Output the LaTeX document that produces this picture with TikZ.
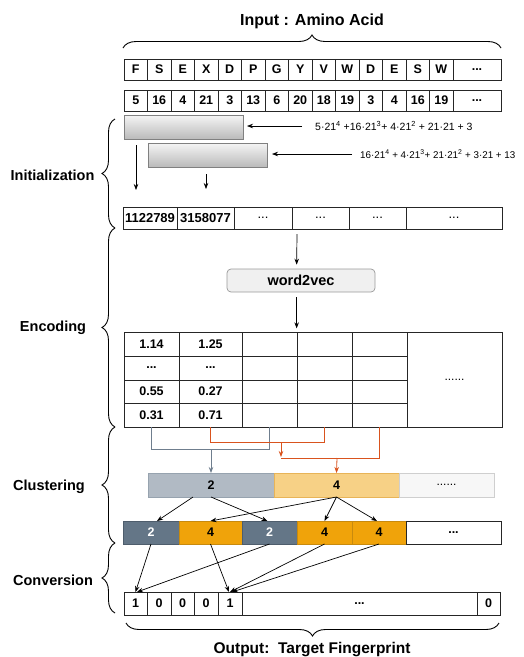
\documentclass[tikz,border=0pt]{standalone}
\usepackage{fontspec}
\setmainfont{Liberation Sans}
\usetikzlibrary{arrows.meta,decorations.pathreplacing,calc}

\definecolor{slate}{HTML}{647687}
\definecolor{slateline}{HTML}{4E5D6C}
\definecolor{amber}{HTML}{F0A30A}
\definecolor{amberline}{HTML}{C88A0E}
\definecolor{slatelight}{HTML}{B1BAC4}
\definecolor{slatelightline}{HTML}{97A3AF}
\definecolor{amberlight}{HTML}{F7D186}
\definecolor{amberlightline}{HTML}{E8B458}
\definecolor{paleg}{HTML}{F7F7F7}
\definecolor{palegline}{HTML}{CFCFCF}
\definecolor{redorange}{HTML}{D9531E}
\definecolor{grayconn}{HTML}{6F7E8E}

\newcommand\dotsthree{...}
\newcommand\thindots{{\mdseries ...}}

\begin{document}
\begin{tikzpicture}[x=1pt,y=-1pt,
  cell/.style={draw=black!85, line width=0.9pt, inner sep=0pt, outer sep=0pt,
    font=\bfseries\fontsize{12.5}{13}\selectfont},
  title/.style={font=\bfseries\fontsize{16}{18}\selectfont},
  lbl/.style={font=\bfseries\fontsize{14.5}{16}\selectfont},
  formula/.style={font=\fontsize{10.5}{12}\selectfont, inner sep=0pt},
  graybar/.style={draw=black!50, line width=0.7pt, top color=black!4,
    bottom color=black!27, inner sep=0pt, outer sep=0pt},
  w2v/.style={draw=black!40, fill=black!6, rounded corners=4pt, line width=0.7pt,
    font=\bfseries\fontsize{14.5}{16}\selectfont},
  brc/.style={decorate, decoration={brace, amplitude=13pt}, line width=0.9pt},
  arr/.style={-{Stealth[length=6pt,width=4.5pt]}, line width=0.7pt},
  gline/.style={draw=grayconn, line width=0.8pt},
  garr/.style={gline, -{Stealth[length=6pt,width=4.5pt]}},
  oline/.style={draw=redorange, line width=0.8pt},
  oarr/.style={oline, -{Stealth[length=6pt,width=4.5pt]}},
  seg/.style={line width=0.9pt, inner sep=0pt, outer sep=0pt,
    font=\bfseries\fontsize{12.5}{13}\selectfont}
]
\useasboundingbox (0,0) rectangle (524,657);

% ---------- input ----------
\node[title] (intitle) at (312,21.5) {Input : Amino Acid};
\draw[brc] (123,48) -- (501,48);

\foreach \a/\b/\lab [count=\i] in {124/147.5/F, 147.5/171/S, 171/194.5/E,
  194.5/218/X, 218/241.5/D, 241.5/265/P, 265/288.5/G, 288.5/312/Y, 312/335.5/V,
  335.5/359/W, 359/382.5/D, 382.5/406/E, 406/429.5/S, 429.5/453/W, 453/501/\dotsthree}
  \node[cell, minimum width={(\b-\a)*1pt}, minimum height=21pt] (aa\i)
    at ({(\a+\b)/2},69.5) {\lab};

\foreach \a/\b/\lab [count=\i] in {124/147.5/5, 147.5/171/16, 171/194.5/4,
  194.5/218/21, 218/241.5/3, 241.5/265/13, 265/288.5/6, 288.5/312/20, 312/335.5/18,
  335.5/359/19, 359/382.5/3, 382.5/406/4, 406/429.5/16, 429.5/453/19, 453/501/\dotsthree}
  \node[cell, minimum width={(\b-\a)*1pt}, minimum height=21pt] (nm\i)
    at ({(\a+\b)/2},100.5) {\lab};

% ---------- initialization ----------
\node[graybar, minimum width=119pt, minimum height=24pt, anchor=north west] (g1) at (124,115) {};
\node[graybar, minimum width=119pt, minimum height=24pt, anchor=north west] (g2) at (148,143) {};

\node[formula, anchor=west] (f1) at (315,126)
  {5·21\textsuperscript{4} +16·21\textsuperscript{3}+ 4·21\textsuperscript{2} + 21·21 + 3};
\node[formula, font=\fontsize{9.8}{12}\selectfont, anchor=west] (f2) at (360,154)
  {16·21\textsuperscript{4} + 4·21\textsuperscript{3}+ 21·21\textsuperscript{2} + 3·21 + 13};

\draw[arr] ([xshift=-13pt]f1.west) -- ([xshift=4pt]f1.west -| g1.east);
\draw[arr] ([xshift=-8pt]f2.west) -- ([xshift=5pt]f2.west -| g2.east);

\draw[arr] ($(g1.south west)+(12,6)$) -- ($(g1.south west)+(12,51)$);
\draw[arr] ($(g2.south west)+(58,7)$) -- ($(g2.south west)+(58,22)$);

\foreach \a/\b/\lab [count=\i] in {123/177/1122789, 177/234/3158077,
  234/292/\thindots, 292/349/\thindots, 349/406/\thindots, 406/502/\thindots}
  \node[cell, font=\bfseries\fontsize{13}{14}\selectfont,
    minimum width={(\b-\a)*1pt}, minimum height=22pt] (v\i)
    at ({(\a+\b)/2},218) {\lab};

% ---------- encoding ----------
\node[w2v, minimum width=148pt, minimum height=23pt] (w) at (301,280.5) {word2vec};
\draw[arr] ($(v4.south west)+(5,5)$) -- ($(w.north west)+(70,-4)$);
\draw[arr] ($(w.south west)+(70,5)$) -- ($(w.south west)+(70,36)$);

\foreach \r/\ya/\yb/\p/\q in {1/332/356/1.14/1.25, 2/356/380/\dotsthree/\dotsthree,
  3/380/403/0.55/0.27, 4/403/427/0.31/0.71} {
  \foreach \c/\xa/\xb in {1/124/179, 2/179/242, 3/242/297, 4/297/352, 5/352/407} {
    \node[cell, minimum width={(\xb-\xa)*1pt}, minimum height={(\yb-\ya)*1pt}]
      (t\r\c) at ({(\xa+\xb)/2},{(\ya+\yb)/2}) {\ifcase\c\or\p\or\q\fi};
  }
}
\node[cell, minimum width=95pt, minimum height=95pt, font=\fontsize{12}{13}\selectfont]
  (tbig) at (454.5,379.5) {......};

% ---------- clustering ----------
\draw[gline] (t41.south) -- ++(0,22) -| (t43.south);
\draw[oline] (t42.south) -- ++(0,15) -| (t44.south);
\draw[oline] (t45.south) -- ++(0,31) -- ++(-98.5,0);
\draw[oarr] ($(t42.south)+(70.5,15)$) -- ++(0,15);

\node[seg, draw=slatelightline, fill=slatelight, minimum width=126pt, minimum height=24pt]
  (c1) at (211,485) {2};
\node[seg, draw=amberlightline, fill=amberlight, minimum width=125pt, minimum height=24pt]
  (c2) at (336.5,485) {4};
\node[seg, draw=palegline, fill=paleg, minimum width=95pt, minimum height=24pt,
  font=\fontsize{12}{13}\selectfont] (c3) at (446.5,485) {......};

\draw[garr] ($(t41.south)+(59.5,22)$) -- (c1.north);
\draw[oarr] ($(t45.south)+(-42.5,31)$) -- (c2.north);

\node[seg, draw=slateline, fill=slate, text=white, minimum width=56pt, minimum height=23pt]
  (s1) at (151,532.5) {2};
\node[seg, draw=amberline, fill=amber, minimum width=63pt, minimum height=23pt]
  (s2) at (210.5,532.5) {4};
\node[seg, draw=slateline, fill=slate, text=white, minimum width=55pt, minimum height=23pt]
  (s3) at (269.5,532.5) {2};
\node[seg, draw=amberline, fill=amber, minimum width=55pt, minimum height=23pt]
  (s4) at (324.5,532.5) {4};
\node[seg, draw=amberline, fill=amber, minimum width=54pt, minimum height=23pt]
  (s5) at (379,532.5) {4};
\node[cell, minimum width=95pt, minimum height=23pt] (s6) at (453.5,532.5) {...};

\draw[arr] ($(c1.south)+(-18,0)$) -- ($(s1.north)+(6,0)$);
\draw[arr] (c1.south) -- ($(s3.north)+(-2,0)$);
\draw[arr] (c2.south) -- (s2.north);
\draw[arr] (c2.south) -- (s4.north);
\draw[arr] (c2.south) -- ($(s5.north)+(-2,0)$);

% ---------- conversion ----------
\foreach \a/\b/\lab [count=\i] in {124/147/1, 147/171/0, 171/194/0, 194/218/0,
  218/242/1, 242/477/\dotsthree, 477/500/0}
  \node[cell, minimum width={(\b-\a)*1pt}, minimum height=23pt] (fp\i)
    at ({(\a+\b)/2},603.5) {\lab};

\draw[arr] (s1.south) -- (fp1.north);
\draw[arr] (s3.south) -- ($(fp1.north)+(1.5,0)$);
\draw[arr] (s2.south) -- ($(fp5.north)+(-1,0)$);
\draw[arr] (s4.south) -- (fp5.north);
\draw[arr] (s5.south) -- ($(fp5.north)+(2,0)$);

\draw[brc] (499,623) -- (126,623);
\node[lbl, font=\bfseries\fontsize{15.5}{17}\selectfont] (outtitle) at (312,650)
  {Output:\ \ Target Fingerprint};

% ---------- stage braces ----------
\draw[brc] (115,228) -- (115,119);
\draw[brc] (115,427) -- (115,228);
\draw[brc] (115,543) -- (115,427);
\draw[brc] (115,613) -- (115,543);

\node[lbl] (linit) at (52.5,175) {Initialization};
\node[lbl] (lenc) at (53,328) {Encoding};
\node[lbl] (lclu) at (49,487) {Clustering};
\node[lbl] (lconv) at (53,580) {Conversion};
\end{tikzpicture}
\end{document}
